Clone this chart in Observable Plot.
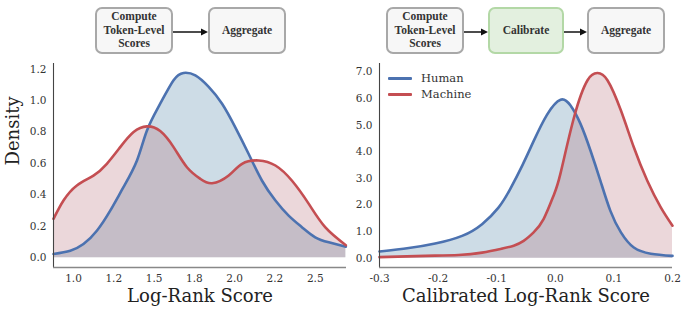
<!DOCTYPE html>
<html>
<head>
<meta charset="utf-8">
<script src="https://cdn.jsdelivr.net/npm/d3@7"></script>
<script src="https://cdn.jsdelivr.net/npm/@observablehq/plot@0.6"></script>
<style>
  html, body { margin: 0; padding: 0; background: #fff; }
  #root { position: relative; width: 686px; height: 315px; overflow: hidden; font-family: "DejaVu Serif", serif; }
  .panel { position: absolute; top: 0; }
  .panel svg { overflow: visible; }
  .box { position: absolute; box-sizing: border-box; border: 2.3px solid #a8a8a8; border-radius: 7px; background: #f7f7f7;
         display: flex; align-items: center; justify-content: center; text-align: center;
         font-family: "Liberation Serif", serif; font-weight: bold; font-size: 11.5px; line-height: 13.5px; color: #333; }
  .box.green { background: #e3f0df; border-color: #b3d8a6; }
  .arrow { position: absolute; }
  .legend { position: absolute; font-family: "DejaVu Serif", serif; font-size: 11.5px; color: #333; }
  .legend div { display: flex; align-items: center; height: 16px; }
  .legend span.sw { display: inline-block; width: 24px; height: 3px; margin-right: 9px; border-radius: 1px; }
</style>
</head>
<body>
<div id="root"></div>
<script>
// ---- data ----
const seriesNames = ["Human", "Machine"];
const seriesColors = ["#4C72B0", "#C44E52"];
const seriesFills = ["#37739b", "#af5f6b"];

// Left panel: Log-Rank Score densities
const leftHumanX = [0.876, 0.98, 1.062, 1.145, 1.228, 1.31, 1.394, 1.456, 1.538, 1.621, 1.683, 1.756, 1.839, 1.922, 2.004, 2.087, 2.17, 2.253, 2.335, 2.419, 2.50, 2.584, 2.69];
const leftHumanY = [0.024, 0.045, 0.087, 0.172, 0.30, 0.449, 0.619, 0.81, 0.98, 1.13, 1.176, 1.16, 1.087, 0.98, 0.83, 0.66, 0.49, 0.364, 0.268, 0.193, 0.13, 0.098, 0.07];
const leftMachineX = [0.876, 0.938, 1.021, 1.124, 1.207, 1.29, 1.373, 1.456, 1.538, 1.621, 1.704, 1.787, 1.86, 1.963, 2.046, 2.149, 2.253, 2.356, 2.46, 2.563, 2.69];
const leftMachineY = [0.247, 0.364, 0.46, 0.523, 0.598, 0.704, 0.80, 0.836, 0.806, 0.704, 0.576, 0.502, 0.474, 0.523, 0.598, 0.619, 0.587, 0.49, 0.343, 0.193, 0.08];

// Right panel: Calibrated Log-Rank Score densities
const rightHumanX = [-0.3, -0.25, -0.205, -0.159, -0.125, -0.097, -0.077, -0.056, -0.037, -0.014, 0.009, 0.026, 0.043, 0.06, 0.077, 0.094, 0.112, 0.134, 0.163, 0.2];
const rightHumanY = [0.25, 0.38, 0.55, 0.84, 1.28, 1.9, 2.6, 3.5, 4.4, 5.4, 5.96, 5.74, 5.05, 4.05, 2.91, 1.78, 0.97, 0.40, 0.17, 0.087];
const rightMachineX = [-0.3, -0.222, -0.165, -0.125, -0.091, -0.071, -0.054, -0.037, -0.02, -0.003, 0.009, 0.032, 0.055, 0.072, 0.089, 0.112, 0.134, 0.157, 0.18, 0.2];
const rightMachineY = [0.04, 0.087, 0.12, 0.21, 0.36, 0.47, 0.65, 0.97, 1.47, 2.35, 3.2, 5.3, 6.69, 6.96, 6.69, 5.55, 4.17, 2.91, 1.91, 1.22];

// axes
const leftXDomain = [0.876, 2.694];
const leftYDomain = [-0.062, 1.236];
const leftXTicks = [1.0, 1.25, 1.5, 1.75, 2.0, 2.25, 2.5];
const leftXTickLabels = ["1.0", "1.2", "1.5", "1.8", "2.0", "2.2", "2.5"];
const leftYTicks = [0, 0.2, 0.4, 0.6, 0.8, 1.0, 1.2];
const rightXDomain = [-0.3, 0.2];
const rightYDomain = [-0.35, 7.32];
const rightXTicks = [-0.3, -0.2, -0.1, 0.0, 0.1, 0.2];
const rightXTickLabels = ["-0.3", "-0.2", "-0.1", "0.0", "0.1", "0.2"];
const rightYTicks = [0, 1, 2, 3, 4, 5, 6, 7];

const leftXLabel = "Log-Rank Score";
const rightXLabel = "Calibrated Log-Rank Score";
const yLabel = "Density";

const leftSteps = ["Compute<br>Token-Level<br>Scores", "Aggregate"];
const rightSteps = ["Compute<br>Token-Level<br>Scores", "Calibrate", "Aggregate"];

// ---- build ----
function rows(xs, ys, name) { return xs.map((x, i) => ({x, y: ys[i], s: name})); }

function panel({hx, hy, mx, my, xDomain, yDomain, xTicks, xTickLabels, yTicks, xLabel, showY, width, marginLeft, marginRight}) {
  const series = [rows(hx, hy, seriesNames[0]), rows(mx, my, seriesNames[1])];
  const marks = [];
  series.forEach((d, i) => {
    marks.push(Plot.areaY(d, {x: "x", y1: 0, y2: "y", fill: seriesFills[i], fillOpacity: 0.25, curve: "natural"}));
  });
  series.forEach((d) => {
    marks.push(Plot.lineY(d, {x: "x", y: "y", stroke: "s", strokeWidth: 2.6, curve: "natural"}));
  });
  marks.push(
    Plot.ruleX([xDomain[0]], {stroke: "#444", strokeWidth: 1.1}),
    Plot.ruleY([yDomain[0]], {stroke: "#888", strokeWidth: 1.4}),
    Plot.axisX({ticks: xTicks, tickSize: 0, tickPadding: 7, tickFormat: (d) => xTickLabels[xTicks.indexOf(d)], label: null, fontSize: 10.5, fill: "#333"}),
    Plot.axisY({ticks: yTicks, tickSize: 0, tickPadding: 7, tickFormat: d3.format(".1f"), label: null, fontSize: 10.5, fill: "#333"}),
    Plot.text([xLabel], {frameAnchor: "bottom", text: d => d, dy: 34, fontSize: 18, fill: "#222"})
  );
  if (showY) marks.push(Plot.text([yLabel], {frameAnchor: "left", text: d => d, rotate: -90, dx: -40, fontSize: 18, fill: "#222"}));
  return Plot.plot({
    width, height: 315,
    marginTop: 63, marginBottom: 48, marginLeft, marginRight,
    style: {fontFamily: "'DejaVu Serif', serif", background: "transparent", overflow: "visible"},
    x: {domain: xDomain},
    y: {domain: yDomain},
    color: {domain: seriesNames, range: seriesColors},
    marks
  });
}

const root = document.getElementById("root");

const p1 = panel({hx: leftHumanX, hy: leftHumanY, mx: leftMachineX, my: leftMachineY,
  xDomain: leftXDomain, yDomain: leftYDomain, xTicks: leftXTicks, xTickLabels: leftXTickLabels, yTicks: leftYTicks,
  xLabel: leftXLabel, showY: true, width: 350, marginLeft: 53, marginRight: 4});
const d1 = document.createElement("div"); d1.className = "panel"; d1.style.left = "0px"; d1.appendChild(p1); root.appendChild(d1);

const p2 = panel({hx: rightHumanX, hy: rightHumanY, mx: rightMachineX, my: rightMachineY,
  xDomain: rightXDomain, yDomain: rightYDomain, xTicks: rightXTicks, xTickLabels: rightXTickLabels, yTicks: rightYTicks,
  xLabel: rightXLabel, showY: false, width: 350, marginLeft: 43, marginRight: 14});
const d2 = document.createElement("div"); d2.className = "panel"; d2.style.left = "336px"; d2.appendChild(p2); root.appendChild(d2);

// legend
const lg = document.createElement("div"); lg.className = "legend";
lg.style.left = "388px"; lg.style.top = "70px";
seriesNames.forEach((n, i) => {
  const r = document.createElement("div");
  r.innerHTML = `<span class="sw" style="background:${seriesColors[i]}"></span>${n}`;
  lg.appendChild(r);
});
root.appendChild(lg);

// flowcharts
function flow(steps, lefts, widths) {
  steps.forEach((t, i) => {
    const b = document.createElement("div");
    b.className = "box" + (t === "Calibrate" ? " green" : "");
    b.style.left = lefts[i] + "px"; b.style.top = "7px";
    b.style.width = widths[i] + "px"; b.style.height = "47px";
    b.innerHTML = t;
    root.appendChild(b);
    if (i < steps.length - 1) {
      const x0 = lefts[i] + widths[i], x1 = lefts[i + 1];
      const ns = "http://www.w3.org/2000/svg";
      const s = document.createElementNS(ns, "svg");
      s.setAttribute("class", "arrow");
      s.setAttribute("width", x1 - x0); s.setAttribute("height", 10);
      s.style.left = x0 + "px"; s.style.top = "26.5px";
      const w = x1 - x0;
      s.innerHTML = `<line x1="0" y1="5" x2="${w - 6}" y2="5" stroke="#111" stroke-width="1.5"/><path d="M${w - 7},1.5 L${w},5 L${w - 7},8.5 Z" fill="#111"/>`;
      root.appendChild(s);
    }
  });
}
flow(leftSteps, [95, 208], [78, 78]);
flow(rightSteps, [386, 488, 587], [78, 76, 78]);
</script>
</body>
</html>
